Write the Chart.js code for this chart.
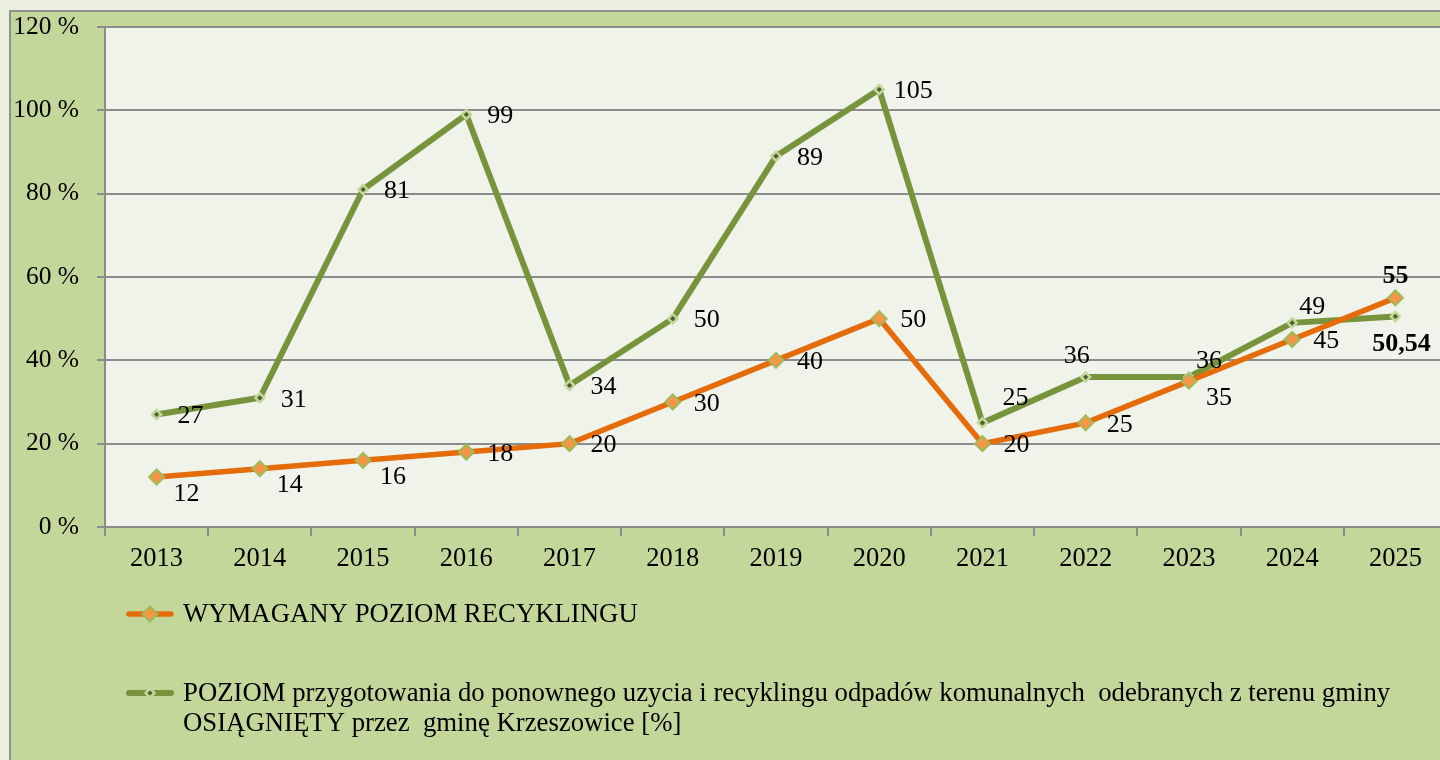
<!DOCTYPE html>
<html>
<head>
<meta charset="utf-8">
<script src="https://cdn.jsdelivr.net/npm/chart.js@4.4.1/dist/chart.umd.min.js"></script>
<style>
    html, body { margin: 0; padding: 0; width: 1440px; height: 760px; overflow: hidden; background: #ebf1de; }
    #frame { position: absolute; left: 9px; top: 10px; width: 1500px; height: 800px; border: 2px solid #8f8f8f; background: #c4d79b; }
    #recyclingChart { position: absolute; left: 0; top: 0; }
</style>
</head>
<body>
<div id="frame"></div>
<canvas id="recyclingChart" width="1460" height="760"></canvas>
<script>
// Poziom recyklingu - Krzeszowice

const YEARS = ['2013', '2014', '2015', '2016', '2017', '2018', '2019', '2020', '2021', '2022', '2023', '2024', '2025'];
const REQUIRED = [12, 14, 16, 18, 20, 30, 40, 50, 20, 25, 35, 45, 55];
const ACHIEVED = [27, 31, 81, 99, 34, 50, 89, 105, 25, 36, 36, 49, 50.54];
const Y_TICKS = [0, 20, 40, 60, 80, 100, 120];

const REQUIRED_LABEL = 'WYMAGANY POZIOM RECYKLINGU';
const ACHIEVED_LABEL = [
    'POZIOM przygotowania do ponownego uzycia i recyklingu odpadów komunalnych  odebranych z terenu gminy',
    'OSIĄGNIĘTY przez  gminę Krzeszowice [%]'
];

// where each value label sits relative to its point
const REQUIRED_PLACE = ['belowRight', 'belowRight', 'belowRight', 'right', 'right', 'right', 'right', 'right', 'right', 'right', 'belowRight', 'right', 'above'];
const ACHIEVED_PLACE = ['right', 'right', 'right', 'right', 'right', 'right', 'right', 'right', 'upRight', 'aboveLeft', 'aboveRight', 'aboveRight', 'below'];

(function () {
    const FONT = 'Liberation Serif, Times New Roman, serif';
    const GRID = '#8c8c8c';

    const OFFSETS = {
        right: [34, 2],
        belowRight: [30, 17],
        above: [0, -22],
        upRight: [33, -25],
        aboveRight: [20, -16],
        aboveLeft: [-9, -21],
        below: [6, 28]
    };

    function fmt(v) {
        return String(v).replace('.', ',');
    }

    const plotBackground = {
        id: 'plotBackground',
        beforeDraw(chart) {
            const { ctx, chartArea } = chart;
            ctx.save();
            ctx.fillStyle = '#eff3ea';
            ctx.fillRect(chartArea.left, chartArea.top, chartArea.right - chartArea.left, chartArea.bottom - chartArea.top);
            ctx.restore();
        }
    };

    const valueLabels = {
        id: 'valueLabels',
        afterDatasetsDraw(chart) {
            const ctx = chart.ctx;
            ctx.save();
            ctx.fillStyle = '#000';
            ctx.textAlign = 'center';
            ctx.textBaseline = 'middle';
            chart.data.datasets.forEach((ds, di) => {
                const meta = chart.getDatasetMeta(di);
                const last = ds.data.length - 1;
                meta.data.forEach((pt, i) => {
                    const off = OFFSETS[ds.labelPlace[i]] || OFFSETS.right;
                    const v = ds.data[i];
                    const text = i === last ? fmt(v) : String(Math.round(v));
                    ctx.font = (i === last ? 'bold ' : '') + '26px ' + FONT;
                    ctx.fillText(text, pt.x + off[0], pt.y + off[1]);
                });
            });
            ctx.restore();
        }
    };

    // legend drawn by hand so the long label can wrap to two lines
    const customLegend = {
        id: 'customLegend',
        afterDraw(chart) {
            const ctx = chart.ctx;
            const rows = [614, 693];
            ctx.save();
            ctx.font = '26.75px ' + FONT;
            ctx.textBaseline = 'middle';
            ctx.textAlign = 'left';
            chart.data.datasets.forEach((ds, di) => {
                const y = rows[di];
                ctx.strokeStyle = ds.borderColor;
                ctx.lineWidth = ds.borderWidth;
                ctx.lineCap = 'round';
                ctx.beginPath();
                ctx.moveTo(129, y);
                ctx.lineTo(171, y);
                ctx.stroke();
                ctx.fillStyle = ds.pointBackgroundColor;
                ctx.strokeStyle = ds.pointBorderColor;
                ctx.lineWidth = ds.pointBorderWidth;
                ctx.beginPath();
                const r = ds.pointRadius;
                ctx.moveTo(150, y - r);
                ctx.lineTo(150 + r, y);
                ctx.lineTo(150, y + r);
                ctx.lineTo(150 - r, y);
                ctx.closePath();
                ctx.fill();
                ctx.stroke();
                ctx.fillStyle = '#000';
                const lines = Array.isArray(ds.legendText) ? ds.legendText : [ds.legendText];
                lines.forEach((line, li) => ctx.fillText(line, 183, y + 1 + li * 30));
            });
            ctx.restore();
        }
    };

    const canvas = document.getElementById('recyclingChart');
    const ctx = canvas.getContext('2d');

    new Chart(ctx, {
        type: 'line',
        data: {
            labels: YEARS,
            datasets: [
                {
                    label: REQUIRED_LABEL,
                    legendText: REQUIRED_LABEL,
                    data: REQUIRED,
                    labelPlace: REQUIRED_PLACE,
                    borderColor: '#e46c0a',
                    borderWidth: 5.5,
                    tension: 0,
                    pointStyle: 'rectRot',
                    pointRadius: 7.5,
                    pointBackgroundColor: '#f79646',
                    pointBorderColor: '#9bbb59',
                    pointBorderWidth: 2
                },
                {
                    label: ACHIEVED_LABEL.join(' '),
                    legendText: ACHIEVED_LABEL,
                    data: ACHIEVED,
                    labelPlace: ACHIEVED_PLACE,
                    borderColor: '#77933c',
                    borderWidth: 6,
                    tension: 0,
                    pointStyle: 'rectRot',
                    pointRadius: 4.5,
                    pointBackgroundColor: '#4f6228',
                    pointBorderColor: '#c3d69b',
                    pointBorderWidth: 2.5
                }
            ]
        },
        options: {
            responsive: false,
            animation: false,
            devicePixelRatio: 1,
            layout: { padding: { left: 0, top: 27, right: 13, bottom: 193 } },
            scales: {
                x: {
                    offset: true,
                    grid: { offset: true, drawOnChartArea: false, color: GRID, lineWidth: 2, tickLength: 9 },
                    border: { color: GRID, width: 2 },
                    ticks: { color: '#000', font: { family: FONT, size: 26.5 }, padding: 7, maxRotation: 0 },
                    afterFit(scale) {
                        scale.height = 40;
                        scale.paddingLeft = 0;
                        scale.paddingRight = 0;
                    }
                },
                y: {
                    min: 0,
                    max: 120,
                    afterBuildTicks(scale) { scale.ticks = Y_TICKS.map(v => ({ value: v })); },
                    grid: { color: GRID, lineWidth: 2, tickLength: 8 },
                    border: { color: GRID, width: 2 },
                    ticks: {
                        color: '#000',
                        font: { family: FONT, size: 25.5 },
                        padding: 18,
                        callback: v => v + ' %'
                    },
                    afterFit(scale) {
                        scale.width = 105;
                        scale.paddingTop = 0;
                        scale.paddingBottom = 0;
                    }
                }
            },
            plugins: {
                legend: { display: false },
                tooltip: { enabled: false }
            }
        },
        plugins: [plotBackground, valueLabels, customLegend]
    });
})();
</script>
</body>
</html>
